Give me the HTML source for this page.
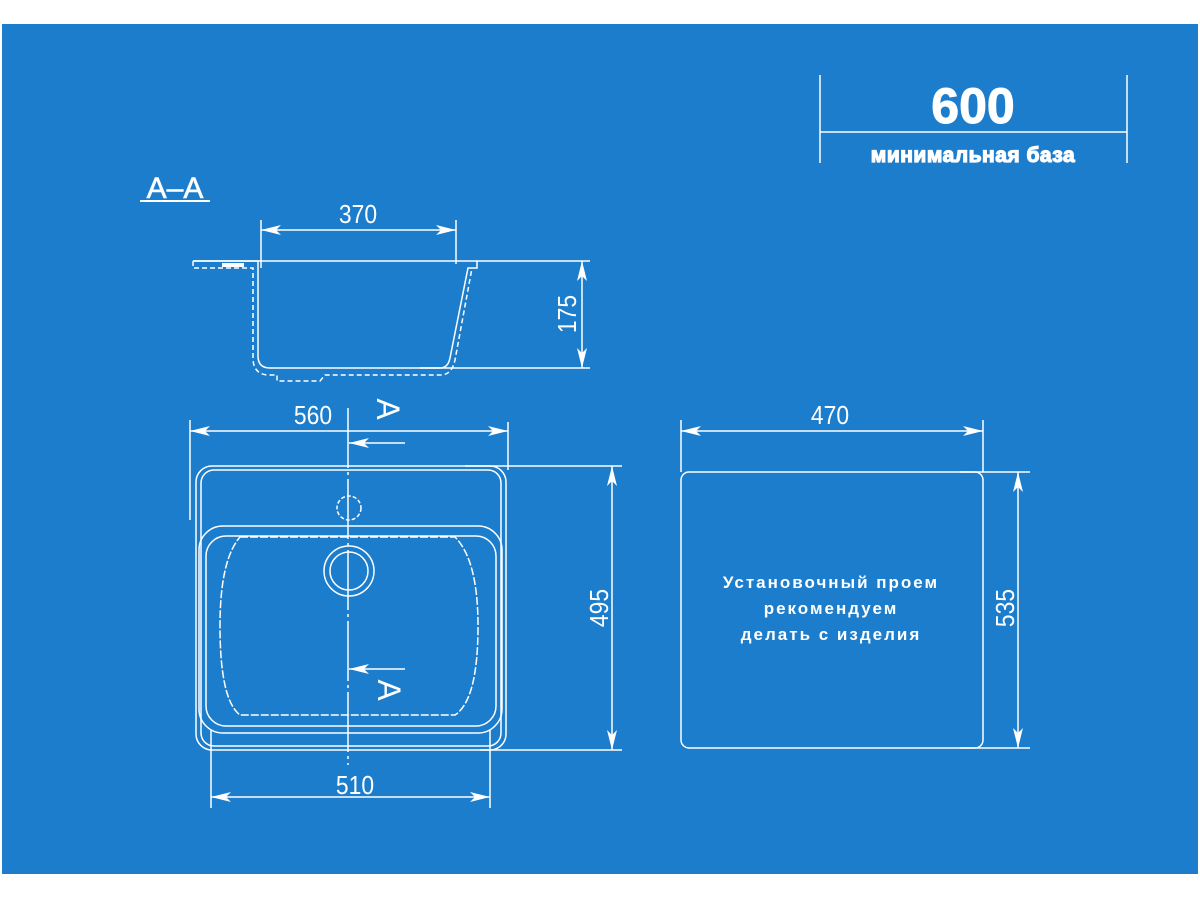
<!DOCTYPE html>
<html><head><meta charset="utf-8"><style>
html,body{margin:0;padding:0;background:#fff;}
svg{display:block;}
text{font-family:"Liberation Sans","DejaVu Sans",sans-serif;fill:#fff;}
</style></head><body>
<svg width="1200" height="900" viewBox="0 0 1200 900" xmlns="http://www.w3.org/2000/svg">
<defs>
<marker id="ar" viewBox="0 0 20 10" refX="20" refY="5" markerWidth="20" markerHeight="10" markerUnits="userSpaceOnUse" orient="auto-start-reverse">
<path d="M0,0 L20,5 L0,10 L5,5 Z" fill="#fff"/>
</marker>
</defs>
<rect x="2" y="24" width="1196" height="850" fill="#1c7dcc"/>
<g stroke="#fff" fill="none" stroke-width="1.5">
<line x1="820" y1="75" x2="820" y2="163"/>
<line x1="1127" y1="75" x2="1127" y2="163"/>
<line x1="820" y1="132" x2="1127" y2="132"/>
<line x1="140" y1="201" x2="210" y2="201" stroke-width="2"/>
<line x1="261" y1="220" x2="261" y2="268"/>
<line x1="456" y1="220" x2="456" y2="264"/>
<line x1="261" y1="230" x2="456" y2="230" marker-start="url(#ar)" marker-end="url(#ar)"/>
<line x1="193" y1="261" x2="590" y2="261"/>
<line x1="420" y1="368" x2="590" y2="368"/>
<line x1="582" y1="261" x2="582" y2="368" marker-start="url(#ar)" marker-end="url(#ar)"/>
<path d="M193,261 L258,261 L258,356 Q258,368 270,368 L440,368 Q448,368 450,358 L468,268 L477,268 L477,261"/>
<path d="M193,261 L193,268 L253,268 L253,358 Q253,374 268,375 L277,375 L277,381 L320,381 L325,375 L442,375 Q452,374 455,360 L472,268" stroke-dasharray="5 3"/>
<rect x="222" y="263" width="22" height="4" fill="#fff" stroke="none"/>
<line x1="190" y1="420" x2="190" y2="520"/>
<line x1="508" y1="422" x2="508" y2="470"/>
<line x1="190" y1="431" x2="508" y2="431" marker-start="url(#ar)" marker-end="url(#ar)"/>
<rect x="196" y="466" width="310" height="284" rx="16"/>
<rect x="201" y="470" width="300" height="276" rx="13"/>
<rect x="199" y="526" width="303" height="207" rx="24"/>
<rect x="206" y="536" width="290" height="190" rx="20"/>
<path d="M240,537 L455,537 Q478,560 478,626 Q478,700 455,715 L240,715 Q220,700 220,626 Q220,560 240,537 Z" stroke-dasharray="8 2"/>
<line x1="465" y1="466" x2="622" y2="466"/>
<line x1="480" y1="750" x2="622" y2="750"/>
<line x1="612" y1="466" x2="612" y2="750" marker-start="url(#ar)" marker-end="url(#ar)"/>
<line x1="211" y1="730" x2="211" y2="808"/>
<line x1="490" y1="730" x2="490" y2="808"/>
<line x1="211" y1="797" x2="490" y2="797" marker-start="url(#ar)" marker-end="url(#ar)"/>
<line x1="348" y1="408" x2="348" y2="765" stroke-dasharray="60 4 3 4"/>
<circle cx="349" cy="508" r="12" stroke-dasharray="4 2"/>
<circle cx="349" cy="571" r="25"/>
<circle cx="349" cy="571" r="19"/>
<line x1="349" y1="443" x2="405" y2="443" marker-start="url(#ar)"/>
<line x1="349" y1="669" x2="405" y2="669" marker-start="url(#ar)"/>
<line x1="681" y1="420" x2="681" y2="472"/>
<line x1="983" y1="420" x2="983" y2="472"/>
<line x1="681" y1="431" x2="983" y2="431" marker-start="url(#ar)" marker-end="url(#ar)"/>
<rect x="681" y="472" width="302" height="276" rx="8"/>
<line x1="960" y1="472" x2="1030" y2="472"/>
<line x1="960" y1="748" x2="1030" y2="748"/>
<line x1="1018" y1="472" x2="1018" y2="748" marker-start="url(#ar)" marker-end="url(#ar)"/>
</g>
<text x="973" y="123" font-size="50" font-weight="bold" text-anchor="middle" stroke="#fff" stroke-width="1">600</text>
<text x="973" y="162" font-size="21" font-weight="bold" text-anchor="middle" letter-spacing="0.5" stroke="#fff" stroke-width="1.2">минимальная база</text>
<text x="175" y="198" font-size="30" text-anchor="middle" stroke="#fff" stroke-width="0.6">A–A</text>
<g font-size="26" text-anchor="middle">
<text transform="translate(358,223) scale(0.88,1)">370</text>
<text transform="translate(576,314) rotate(-90) scale(0.88,1)">175</text>
<text transform="translate(313,424) scale(0.88,1)">560</text>
<text transform="translate(608,608) rotate(-90) scale(0.88,1)">495</text>
<text transform="translate(355,794) scale(0.88,1)">510</text>
<text transform="translate(830,424) scale(0.88,1)">470</text>
<text transform="translate(1014,608) rotate(-90) scale(0.88,1)">535</text>
</g>
<text transform="translate(377,409) rotate(90)" font-size="32" text-anchor="middle">A</text>
<text transform="translate(378,690) rotate(90)" font-size="32" text-anchor="middle">A</text>
<g font-size="17" font-weight="bold" text-anchor="middle" letter-spacing="2">
<text x="831" y="588">Установочный проем</text>
<text x="831" y="614">рекомендуем</text>
<text x="831" y="640">делать с изделия</text>
</g>
</svg>
</body></html>
